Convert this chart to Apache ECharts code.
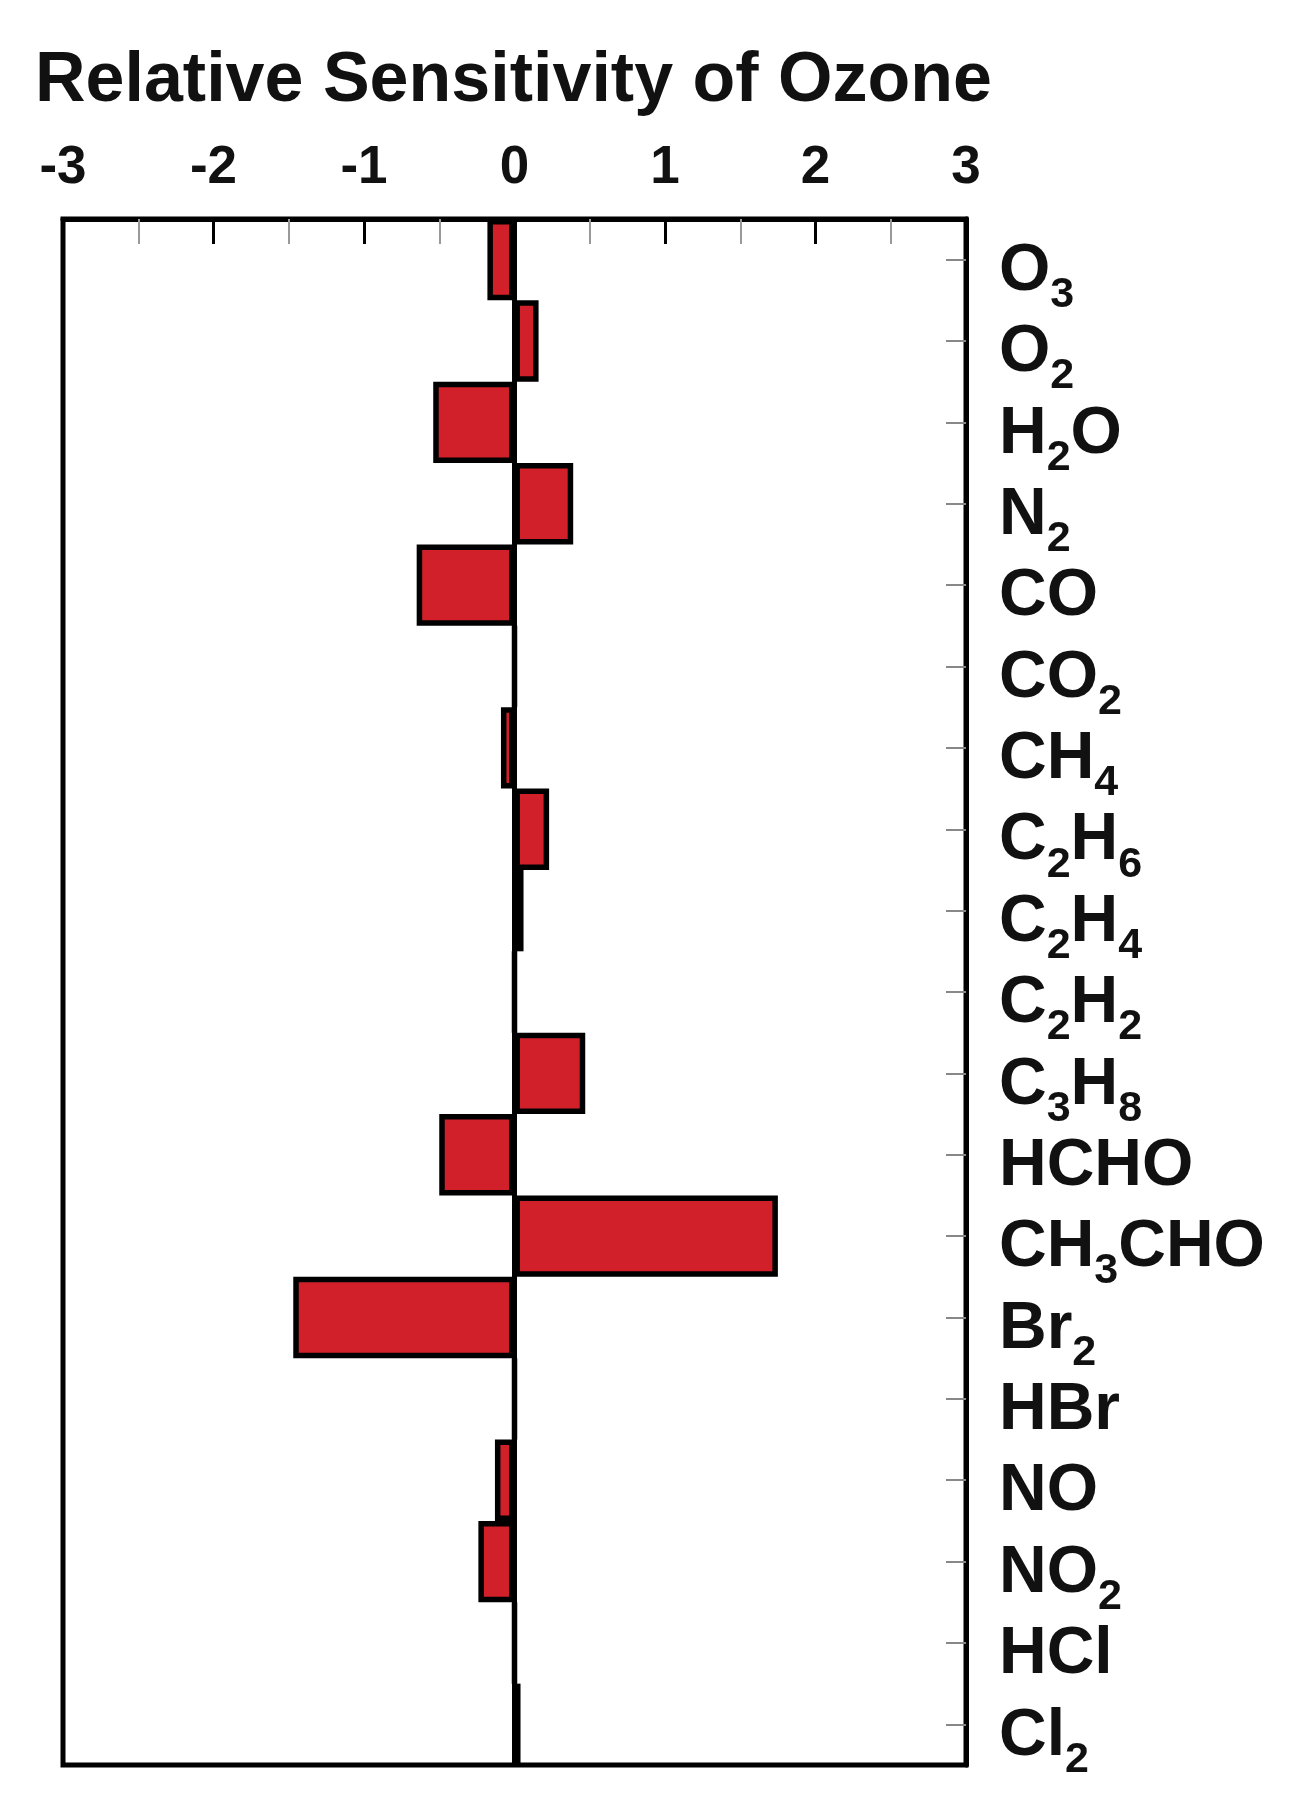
<!DOCTYPE html>
<html>
<head>
<meta charset="utf-8">
<script src="https://cdn.jsdelivr.net/npm/echarts@6/dist/echarts.min.js"></script>
<style>
html,body{margin:0;padding:0;background:#fff;}
#chart{width:1300px;height:1801px;}
</style>
</head>
<body>
<div id="chart"></div>
<script>
const titleText = 'Relative Sensitivity of Ozone';
const categories = ['O3','O2','H2O','N2','CO','CO2','CH4','C2H6','C2H4','C2H2','C3H8','HCHO','CH3CHO','Br2','HBr','NO','NO2','HCl','Cl2'];
const values = [-0.18, 0.16, -0.54, 0.39, -0.65, 0, -0.09, 0.23, 0.06, 0, 0.47, -0.50, 1.75, -1.47, 0, -0.13, -0.24, 0, 0.04];
const xMin = -3, xMax = 3, xInterval = 1;

const FONT = "'Liberation Sans', Arial, sans-serif";

function chemLabel(name) {
  return name.split(/(\d+)/).filter(Boolean)
    .map(p => /\d/.test(p) ? '{s|' + p + '}' : '{m|' + p + '}').join('');
}

const chart = echarts.init(document.getElementById('chart'), null, {renderer: 'canvas'});
chart.setOption({
  backgroundColor: '#ffffff',
  animation: false,
  title: {
    text: titleText,
    left: 30,
    top: 42,
    textStyle: {fontFamily: FONT, fontSize: 70, fontWeight: 'bold', color: '#111'}
  },
  grid: {
    left: 63, right: 334, top: 219, bottom: 36,
    show: true, borderColor: '#000', borderWidth: 5, backgroundColor: 'transparent',
    outerBoundsMode: 'none'
  },
  xAxis: {
    type: 'value',
    position: 'top',
    min: xMin, max: xMax, interval: xInterval,
    axisLine: {show: true, onZero: false, lineStyle: {color: '#000', width: 5}},
    axisTick: {show: true, inside: true, length: 25, lineStyle: {color: '#000', width: 3}},
    minorTick: {show: true, splitNumber: 2, length: 25, lineStyle: {color: '#999', width: 2}},
    splitLine: {show: false},
    axisLabel: {
      show: true, margin: 24,
      fontFamily: FONT, fontSize: 53, fontWeight: 'bold', color: '#111'
    }
  },
  yAxis: {
    type: 'category',
    position: 'right',
    inverse: true,
    data: categories,
    axisLine: {show: true, onZero: false, lineStyle: {color: '#000', width: 5}},
    axisTick: {show: true, inside: true, alignWithLabel: true, length: 20, lineStyle: {color: '#888', width: 2}},
    splitLine: {show: false},
    axisLabel: {
      show: true, margin: 33, align: 'left',
      interval: 0, showMinLabel: true, showMaxLabel: true, hideOverlap: false,
      formatter: chemLabel,
      rich: {
        m: {fontFamily: FONT, fontSize: 66, fontWeight: 'bold', color: '#111', lineHeight: 66, padding: [12, 0, 0, 0], verticalAlign: 'top'},
        s: {fontFamily: FONT, fontSize: 43, fontWeight: 'bold', color: '#111', lineHeight: 66, padding: [47, 0, 0, 0], verticalAlign: 'top'}
      }
    }
  },
  series: [{
    type: 'bar',
    data: values,
    barWidth: '100%',
    barCategoryGap: 0,
    itemStyle: {color: '#D2202A', borderColor: '#000', borderWidth: 5.5},
    markLine: {
      silent: true,
      symbol: ['none', 'none'],
      label: {show: false},
      lineStyle: {color: '#000', width: 5, type: 'solid'},
      data: [{xAxis: 0}]
    }
  }]
});
</script>
</body>
</html>
